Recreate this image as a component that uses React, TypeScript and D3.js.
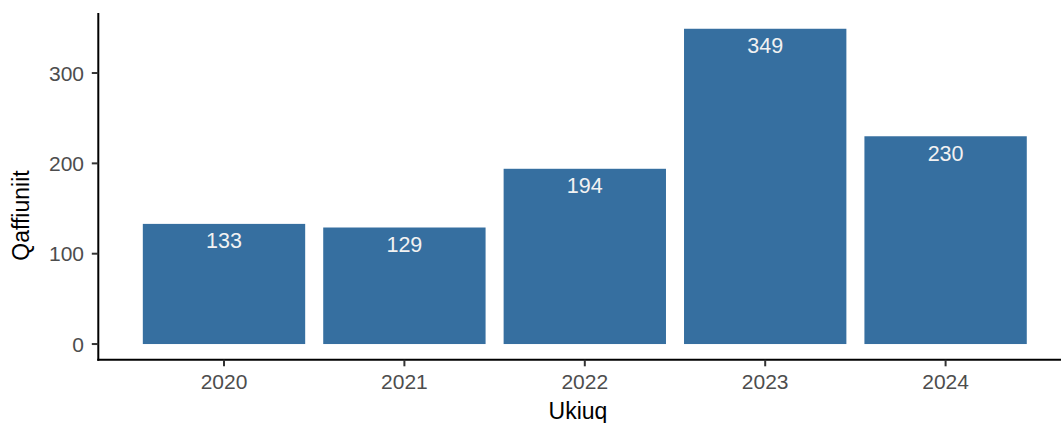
import React from "react";
import * as d3 from "d3";

const years: string[] = ["2020", "2021", "2022", "2023", "2024"];
const counts: number[] = [133, 129, 194, 349, 230];
const yTicks: number[] = [0, 100, 200, 300];
const xTitle = "Ukiuq";
const yTitle = "Qaffiuniit";

const W = 1061;
const H = 423;

export default function App() {
  const x = d3
    .scaleBand<string>()
    .domain(years)
    .range([133.8, 1035.8])
    .paddingInner(0.1)
    .paddingOuter(0.05);
  const maxV = d3.max(counts) as number;
  const y = d3
    .scaleLinear()
    .domain([-0.05 * maxV, maxV * 1.05])
    .range([359.8, 13]);

  const axisX = 98.3;
  const axisY = 359.8;
  const font = "'Liberation Sans', Arial, Helvetica, sans-serif";

  return (
    <div style={{ position: "absolute", left: 0, top: 0 }}>
      <svg width={W} height={H} style={{ display: "block", background: "#fff" }} fontFamily={font}>
        {years.map((yr, i) => (
          <g key={yr}>
            <rect
              x={x(yr)}
              y={y(counts[i])}
              width={x.bandwidth()}
              height={y(0) - y(counts[i])}
              fill="#366fa0"
            />
            <text
              x={(x(yr) as number) + x.bandwidth() / 2}
              y={y(counts[i]) + 24.5}
              textAnchor="middle"
              fontSize={21.5}
              fill="#f2f2f2"
            >
              {counts[i]}
            </text>
          </g>
        ))}
        {/* y axis */}
        <line x1={axisX} x2={axisX} y1={13} y2={axisY + 1} stroke="#000" strokeWidth={2} />
        {yTicks.map((t) => (
          <g key={t}>
            <line x1={axisX - 6.5} x2={axisX} y1={y(t)} y2={y(t)} stroke="#333" strokeWidth={2} />
            <text x={84} y={y(t) + 7.5} textAnchor="end" fontSize={21} fill="#4d4d4d">
              {t}
            </text>
          </g>
        ))}
        {/* x axis */}
        <line x1={axisX - 1} x2={W} y1={axisY} y2={axisY} stroke="#000" strokeWidth={2} />
        {years.map((yr) => {
          const cx = (x(yr) as number) + x.bandwidth() / 2;
          return (
            <g key={yr}>
              <line x1={cx} x2={cx} y1={axisY} y2={axisY + 6.5} stroke="#333" strokeWidth={2} />
              <text x={cx} y={388.5} textAnchor="middle" fontSize={21} fill="#4d4d4d">
                {yr}
              </text>
            </g>
          );
        })}
        <text x={578} y={419} textAnchor="middle" fontSize={23} fill="#000">
          {xTitle}
        </text>
        <text
          transform={`translate(29, 215.5) rotate(-90)`}
          textAnchor="middle"
          fontSize={23}
          fill="#000"
        >
          {yTitle}
        </text>
      </svg>
    </div>
  );
}
